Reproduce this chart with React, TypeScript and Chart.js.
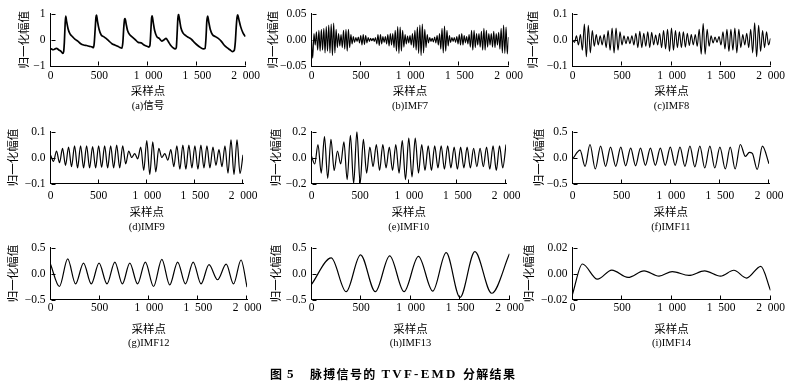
import React, { useEffect, useRef } from 'react';
import { Chart, registerables } from 'chart.js';

Chart.register(...registerables);

// ---------- shared axis ticks ----------
const xTickValues = [0, 500, 1000, 1500, 2000];
const xTickLabels = ['0', '500', '1\u2002000', '1\u2002500', '2\u2002000'];

// ---------- (a) 信号 ----------
const signalX = [0, 30, 60, 90, 110, 125, 135, 142, 150, 156, 165, 180, 200, 225, 250, 280, 310, 340, 370, 400, 425, 440, 448, 458, 466, 472, 482, 498, 520, 545, 570, 600, 630, 660, 690, 715, 732, 742, 752, 760, 765, 775, 790, 815, 840, 870, 900, 930, 960, 990, 1010, 1020, 1030, 1036, 1042, 1052, 1068, 1090, 1115, 1140, 1165, 1185, 1205, 1230, 1255, 1280, 1290, 1298, 1306, 1313, 1322, 1338, 1360, 1390, 1420, 1450, 1480, 1510, 1540, 1570, 1585, 1595, 1603, 1612, 1622, 1638, 1660, 1690, 1720, 1750, 1780, 1810, 1840, 1865, 1885, 1895, 1905, 1913, 1920, 1930, 1950, 1975, 2000];
const signalY = [-0.33, -0.38, -0.33, -0.4, -0.45, -0.52, -0.45, -0.1, 0.6, 0.9, 0.7, 0.42, 0.22, 0.12, 0.02, -0.05, -0.15, -0.2, -0.22, -0.25, -0.27, -0.3, -0.15, 0.4, 0.85, 0.94, 0.7, 0.4, 0.18, 0.12, 0.05, -0.05, -0.15, -0.2, -0.25, -0.3, -0.32, -0.1, 0.5, 0.78, 0.81, 0.62, 0.35, 0.18, 0.1, 0.0, -0.1, -0.12, -0.2, -0.25, -0.28, -0.2, 0.4, 0.8, 0.91, 0.7, 0.35, 0.12, 0.05, -0.05, 0.0, 0.05, -0.05, -0.2, -0.3, -0.35, -0.3, 0.2, 0.8, 0.97, 0.8, 0.45, 0.25, 0.15, 0.08, 0.0, -0.12, -0.22, -0.3, -0.35, -0.33, 0.1, 0.7, 0.9, 0.7, 0.4, 0.2, 0.12, 0.05, -0.05, -0.2, -0.3, -0.38, -0.45, -0.4, -0.1, 0.5, 0.85, 0.95, 0.8, 0.5, 0.25, 0.12];
const yTicksA = [-1, 0, 1];
const yLabelsA = ['\u22121', '0', '1'];

// ---------- (b) IMF7 : extrema, one every imf7Step samples ----------
const imf7Step = 12.5;
const imf7Y = [0, -0.035, 0.012, -0.01,
  0.015, -0.02, 0.018, -0.022, 0.02, -0.02, 0.022, -0.025, 0.025, -0.022, 0.028, -0.025, 0.03,
  -0.03, 0.032, -0.025, 0.02,
  -0.015, 0.012, -0.012, 0.01, -0.015, 0.018,
  -0.018, 0.02, -0.022, 0.02, -0.015, 0.01,
  -0.008, 0.006, -0.005, 0.004, -0.003, 0.005, -0.006, 0.008,
  -0.01, 0.01, -0.009, 0.008, -0.006, 0.004, -0.003, 0.003,
  -0.002, 0.003, -0.003, 0.004,
  -0.008, 0.01, -0.011, 0.01, -0.008, 0.006, -0.005, 0.006,
  -0.008, 0.01, -0.012, 0.012, -0.01, 0.012,
  -0.015, 0.018, -0.022, 0.025, -0.026, 0.024, -0.022, 0.018, -0.014, 0.01,
  -0.008, 0.007, -0.006, 0.008, -0.01, 0.012,
  -0.015, 0.018, -0.02, 0.024, -0.026, 0.028, -0.03, 0.03, -0.025, 0.02, -0.015, 0.01,
  -0.006, 0.004, -0.003, 0.003, -0.004, 0.005, -0.006, 0.008, -0.01, 0.012,
  -0.018, 0.022, -0.025, 0.026, -0.022, 0.018, -0.012, 0.008,
  -0.005, 0.004, -0.003, 0.004, -0.005, 0.006, -0.008, 0.01,
  -0.01, 0.012, -0.01, 0.008, -0.006, 0.006, -0.008, 0.01,
  -0.014, 0.018, -0.02, 0.018, -0.015, 0.012, -0.01, 0.012,
  -0.014, 0.016, -0.02, 0.022, -0.02, 0.018, -0.014, 0.012,
  -0.01, 0.012, -0.014, 0.016, -0.015, 0.012, -0.01, 0.014,
  -0.018, 0.022, -0.025, 0.028, -0.026, 0.024, -0.027, 0.005];
const yTicksB = [-0.05, 0, 0.05];
const yLabelsB = ['\u22120.05', '0.00', '0.05'];

// ---------- (c) IMF8 ----------
const imf8Step = 20;
const imf8Y = [0,
  -0.01, 0.015, -0.02, 0.02,
  -0.04, 0.06, -0.065, 0.055, -0.05, 0.035,
  -0.025, 0.02, -0.02, 0.015, -0.02, 0.02, -0.03,
  0.035, -0.04, 0.045, -0.05, 0.045, -0.04, 0.03,
  -0.02, 0.015, -0.015, 0.012, -0.015, 0.015, -0.02, 0.025,
  -0.03, 0.032, -0.03, 0.025, -0.025, 0.03, -0.03, 0.028,
  -0.02, 0.018, -0.02, 0.025, -0.03,
  0.035, -0.035, 0.04, -0.045, 0.045, -0.04, 0.035, -0.03, 0.03, -0.03,
  0.03, -0.028, 0.025, -0.022, 0.02, -0.02, 0.02, -0.025,
  0.04, -0.055, 0.062, -0.055, 0.04, -0.025,
  0.015, -0.012, 0.01, -0.01, 0.012, -0.02, 0.03,
  -0.035, 0.04, -0.045, 0.04, -0.04, 0.045, -0.05, 0.04, -0.03, 0.02,
  -0.02, 0.025, -0.03, 0.04, -0.05,
  0.065, -0.065, 0.055, -0.045, 0.035,
  -0.03, 0.03, -0.02, 0.005];
const yTicksC = [-0.1, 0, 0.1];
const yLabelsC = ['\u22120.1', '0.0', '0.1'];

// ---------- (d) IMF9 ----------
const imf9Step = 31.25;
const imf9Y = [0.01, -0.015, 0.025, -0.02, 0.035, -0.03, 0.04,
  -0.035, 0.045, -0.04, 0.045, -0.04, 0.045, -0.04, 0.042, -0.04, 0.045, -0.038, 0.045, -0.04, 0.045, -0.04, 0.048, -0.04, 0.045,
  -0.025, 0.025, 0.0, 0.015, -0.005,
  0.04, -0.05, 0.065, -0.065, 0.06, -0.055,
  0.035, 0.0, 0.015, -0.01,
  0.03, -0.035, 0.045, -0.045, 0.048, -0.045, 0.048, -0.04, 0.045, -0.045, 0.048, -0.04, 0.045, -0.04, 0.04,
  -0.03, 0.03, -0.035, 0.045,
  -0.06, 0.068, -0.065, 0.068, -0.062, 0.01];
const yTicksD = [-0.1, 0, 0.1];
const yLabelsD = ['\u22120.1', '0.0', '0.1'];

// ---------- (e) IMF10 ----------
const imf10Step = 2000 / 60;
const imf10Y = [0.01,
  -0.05, 0.1, -0.12, 0.16, -0.16, 0.14, -0.1, 0.05,
  -0.05, 0.12, -0.17, 0.17, -0.2, 0.2, -0.2, 0.14,
  -0.12, 0.08, -0.07, 0.1, -0.1, 0.1, -0.08, 0.08,
  -0.1, 0.1, -0.12, 0.13, -0.17, 0.15, -0.15, 0.15,
  -0.12, 0.1, -0.1, 0.09, -0.1, 0.09, -0.08, 0.09,
  -0.09, 0.09, -0.08, 0.08, -0.09, 0.08, -0.08, 0.08, -0.08, 0.07, -0.07, 0.07,
  -0.07, 0.08, -0.09, 0.09, -0.1, 0.09, -0.08, 0.1];
const yTicksE = [-0.2, 0, 0.2];
const yLabelsE = ['\u22120.2', '0.0', '0.2'];

// ---------- (f) IMF11 ----------
const imf11X = [0, 77, 128, 178, 232, 286, 337, 387, 440, 491, 541, 592, 642, 692, 742, 793, 843, 894, 944, 995, 1045, 1094, 1144, 1195, 1245, 1296, 1346, 1398, 1448, 1500, 1555, 1605, 1655, 1708, 1760, 1800, 1830, 1880, 1933, 2000];
const imf11Y = [-0.03, 0.14, -0.17, 0.25, -0.22, 0.22, -0.17, 0.2, -0.17, 0.2, -0.16, 0.18, -0.16, 0.18, -0.15, 0.18, -0.15, 0.18, -0.15, 0.2, -0.15, 0.2, -0.17, 0.22, -0.18, 0.22, -0.2, 0.22, -0.2, 0.2, -0.22, 0.2, -0.22, 0.25, 0.02, 0.1, 0.08, -0.23, 0.22, -0.12];
const yTicksF = [-0.5, 0, 0.5];
const yLabelsF = ['\u22120.5', '0.0', '0.5'];

// ---------- (g) IMF12 ----------
const imf12X = [0, 91, 175, 255, 336, 415, 494, 575, 655, 731, 807, 886, 965, 1049, 1133, 1213, 1294, 1373, 1452, 1532, 1613, 1700, 1788, 1863, 1939, 2000];
const imf12Y = [0.18, -0.25, 0.28, -0.2, 0.2, -0.2, 0.2, -0.2, 0.22, -0.2, 0.2, -0.2, 0.22, -0.25, 0.27, -0.22, 0.22, -0.2, 0.22, -0.2, 0.17, -0.12, 0.18, -0.2, 0.26, -0.26];
const yTicksG = [-0.5, 0, 0.5];
const yLabelsG = ['\u22120.5', '0.0', '0.5'];

// ---------- (h) IMF13 ----------
const imf13X = [0, 199, 350, 495, 645, 790, 935, 1080, 1225, 1360, 1500, 1650, 1820, 2000];
const imf13Y = [-0.21, 0.3, -0.35, 0.36, -0.35, 0.34, -0.35, 0.33, -0.34, 0.4, -0.46, 0.42, -0.38, 0.38];
const yTicksH = [-0.5, 0, 0.5];
const yLabelsH = ['\u22120.5', '0.0', '0.5'];

// ---------- (i) IMF14 ----------
const imf14X = [0, 100, 252, 397, 561, 723, 874, 1008, 1176, 1334, 1496, 1630, 1758, 1902, 2000];
const imf14Y = [-0.016, 0.0073, -0.0044, 0.0026, -0.003, 0.002, -0.002, 0.0015, -0.0015, 0.002, -0.002, 0.0025, -0.0035, 0.0055, -0.013];
const yTicksI = [-0.02, 0, 0.02];
const yLabelsI = ['\u22120.02', '0.00', '0.02'];

const subtitles = ['(a)信号', '(b)IMF7', '(c)IMF8', '(d)IMF9', '(e)IMF10', '(f)IMF11', '(g)IMF12', '(h)IMF13', '(i)IMF14'];
const xTitle = '采样点';
const yTitle = '归一化幅值';
const captionParts = ['图', '5', '脉搏信号的', 'TVF-EMD', '分解结果'];

const stepXs = (ys: number[], step: number) => ys.map((_, i) => i * step);

const series = [
  { xs: signalX, ys: signalY, yt: yTicksA, yl: yLabelsA },
  { xs: stepXs(imf7Y, imf7Step), ys: imf7Y, yt: yTicksB, yl: yLabelsB },
  { xs: stepXs(imf8Y, imf8Step), ys: imf8Y, yt: yTicksC, yl: yLabelsC },
  { xs: stepXs(imf9Y, imf9Step), ys: imf9Y, yt: yTicksD, yl: yLabelsD },
  { xs: stepXs(imf10Y, imf10Step), ys: imf10Y, yt: yTicksE, yl: yLabelsE },
  { xs: imf11X, ys: imf11Y, yt: yTicksF, yl: yLabelsF },
  { xs: imf12X, ys: imf12Y, yt: yTicksG, yl: yLabelsG },
  { xs: imf13X, ys: imf13Y, yt: yTicksH, yl: yLabelsH },
  { xs: imf14X, ys: imf14Y, yt: yTicksI, yl: yLabelsI },
];

// ---------- layout (page pixels) ----------
const colCanvasX = [0, 258, 516];
const colCanvasW = [263, 268, 273];
const colLeft = [50.5, 311.5, 572.5];
const colRight = [249, 509.5, 770.5];
const rowCanvasY = [0, 117, 234];
const rowCanvasH = [113, 117, 116];
const rowTop = [13.5, 131.5, 247.5];
const rowBottom = [66, 183.5, 299.5];
const rowTickY = [76, 196, 308];
const rowXTitleY = [90.8, 211.5, 328.5];
const yTitleX = [23.5, 272.5, 533, 13, 276, 539, 13, 276, 529];
const lineWidths = [1.7, 1.1, 1.1, 1.2, 1.2, 1.2, 1.2, 1.2, 1.2];

const SERIF = '"Liberation Serif", "Times New Roman", serif';
const CJK = '"Noto Sans CJK SC", sans-serif';
const MIXED = '"Liberation Serif", "Noto Sans CJK SC", serif';
const TICK_SIZE = 11.5;
const TITLE_SIZE = 11.5;
const SUB_SIZE = 10.5;

const innerTicks = {
  id: 'innerTicks',
  afterDatasetsDraw(chart: any) {
    const { ctx, chartArea, scales } = chart;
    const xs = scales.x;
    const ys = scales.y;
    ctx.save();
    ctx.strokeStyle = '#000';
    ctx.lineWidth = 1;
    ctx.beginPath();
    const bx = Math.round(chartArea.bottom) - 0.5;
    for (const t of xs.ticks) {
      const px = Math.round(xs.getPixelForValue(t.value)) - 0.5;
      ctx.moveTo(px, bx);
      ctx.lineTo(px, bx - 4);
    }
    const lx = Math.round(chartArea.left) + 0.5;
    for (const t of ys.ticks) {
      const py = Math.round(ys.getPixelForValue(t.value)) + 0.5;
      ctx.moveTo(lx, py);
      ctx.lineTo(lx + 4, py);
    }
    ctx.stroke();
    ctx.restore();
  },
};

function Panel({ idx }: { idx: number }) {
  const ref = useRef<HTMLCanvasElement>(null);
  const col = idx % 3;
  const row = Math.floor(idx / 3);
  const x0 = colCanvasX[col];
  const w = colCanvasW[col];
  const y0 = rowCanvasY[row];
  const h = rowCanvasH[row];

  useEffect(() => {
    const s = series[idx];
    const L = colLeft[col];
    const R = colRight[col];
    const T = rowTop[row];
    const B = rowBottom[row];
    const subLine = SUB_SIZE * 1.2;
    const xAxisBottom = y0 + h - subLine;
    const xAxisH = xAxisBottom - B;
    const tickPad = rowTickY[row] - B - (TICK_SIZE * 1.2) / 2;
    const xTitlePad = xAxisBottom - rowXTitleY[row] - (TITLE_SIZE * 1.2) / 2;
    const yTitlePad = yTitleX[idx] - x0 - (TITLE_SIZE * 1.2) / 2;

    const chart = new Chart(ref.current as HTMLCanvasElement, {
      type: 'line',
      data: {
        datasets: [
          {
            data: s.xs.map((x, i) => ({ x, y: s.ys[i] })),
            borderColor: '#000',
            borderWidth: lineWidths[idx],
            pointRadius: 0,
            fill: false,
            cubicInterpolationMode: 'monotone',
          },
        ],
      },
      options: {
        responsive: false,
        animation: false,
        devicePixelRatio: 1,
        events: [],
        layout: { padding: { left: 0, top: T - y0, right: x0 + w - R, bottom: 0 } },
        plugins: {
          legend: { display: false },
          tooltip: { enabled: false },
          title: {
            display: true,
            position: 'bottom',
            fullSize: false,
            text: subtitles[idx],
            color: '#000',
            font: { family: MIXED, size: SUB_SIZE, weight: 'normal', lineHeight: 1.2 },
            padding: 0,
          },
        },
        scales: {
          x: {
            type: 'linear',
            min: 0,
            max: 2000,
            grid: { display: false, drawTicks: false },
            border: { display: true, color: '#000', width: 1 },
            afterBuildTicks: (sc: any) => {
              sc.ticks = xTickValues.map((v) => ({ value: v }));
            },
            afterFit: (sc: any) => {
              sc.height = xAxisH;
            },
            ticks: {
              padding: tickPad,
              color: '#000',
              autoSkip: false,
              maxRotation: 0,
              minRotation: 0,
              font: { family: SERIF, size: TICK_SIZE },
              callback: (_v: any, i: number) => xTickLabels[i],
            },
            title: {
              display: true,
              text: xTitle,
              color: '#000',
              font: { family: CJK, size: TITLE_SIZE },
              padding: { top: 0, bottom: xTitlePad },
            },
          },
          y: {
            type: 'linear',
            min: s.yt[0],
            max: s.yt[s.yt.length - 1],
            grid: { display: false, drawTicks: false },
            border: { display: true, color: '#000', width: 1 },
            afterBuildTicks: (sc: any) => {
              sc.ticks = s.yt.map((v) => ({ value: v }));
            },
            afterFit: (sc: any) => {
              sc.width = L - x0;
            },
            ticks: {
              padding: 5,
              color: '#000',
              autoSkip: false,
              font: { family: SERIF, size: TICK_SIZE },
              callback: (_v: any, i: number) => s.yl[i],
            },
            title: {
              display: true,
              text: yTitle,
              color: '#000',
              font: { family: CJK, size: TITLE_SIZE },
              padding: { top: yTitlePad, bottom: 0 },
            },
          },
        },
      } as any,
      plugins: [innerTicks as any],
    });
    return () => chart.destroy();
  }, []);

  return (
    <canvas
      ref={ref}
      width={w}
      height={h}
      style={{ position: 'absolute', left: x0, top: y0, width: w, height: h }}
    />
  );
}

export default function App() {
  const capBase: React.CSSProperties = {
    position: 'absolute',
    top: 365,
    lineHeight: '17px',
    fontWeight: 700,
    color: '#000',
    whiteSpace: 'pre',
  };
  return (
    <div
      style={{
        position: 'fixed',
        left: 0,
        top: 0,
        width: 789,
        height: 389,
        background: '#fff',
        overflow: 'hidden',
      }}
    >
      {series.map((_, i) => (
        <Panel key={i} idx={i} />
      ))}
      <span style={{ ...capBase, left: 270, fontFamily: CJK, fontSize: 12 }}>{captionParts[0]}</span>
      <span style={{ ...capBase, left: 287, fontFamily: SERIF, fontSize: 13 }}>{captionParts[1]}</span>
      <span style={{ ...capBase, left: 310, fontFamily: CJK, fontSize: 12, letterSpacing: '1.3px' }}>{captionParts[2]}</span>
      <span style={{ ...capBase, left: 381.5, fontFamily: SERIF, fontSize: 13, letterSpacing: '2.2px' }}>{captionParts[3]}</span>
      <span style={{ ...capBase, left: 463, fontFamily: CJK, fontSize: 12, letterSpacing: '1.3px' }}>{captionParts[4]}</span>
    </div>
  );
}
